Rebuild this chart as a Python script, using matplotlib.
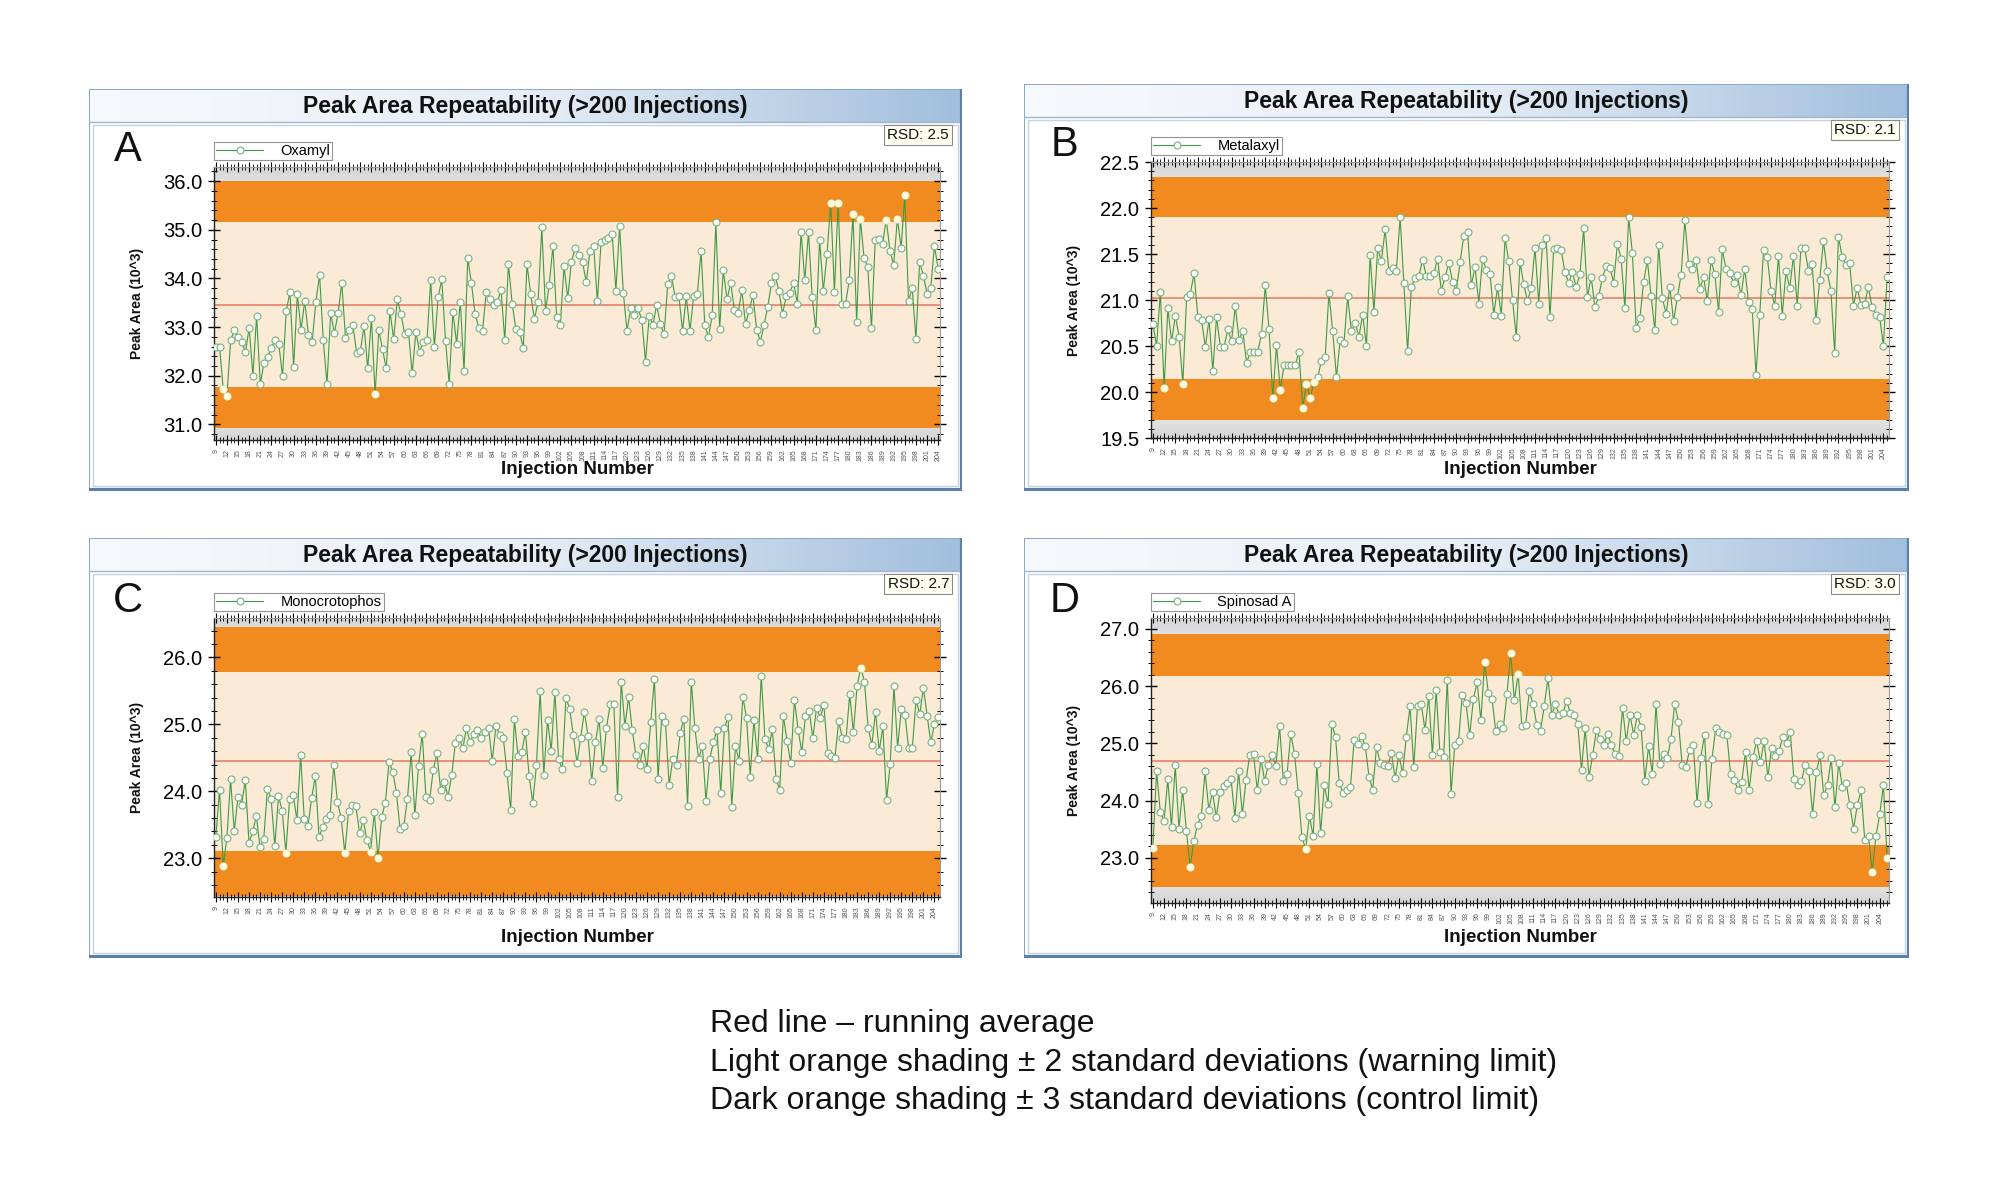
import numpy as np
import matplotlib
matplotlib.use("Agg")
from matplotlib import pyplot as plt
from matplotlib.colors import LinearSegmentedColormap
from matplotlib.patches import Rectangle
from matplotlib.ticker import MultipleLocator

plt.rcParams['font.family'] = ['Liberation Sans', 'DejaVu Sans']

W, H = 2000, 1192

# peak areas (10^3), injection 9 onwards
oxamyl = [32.6, 32.6, 31.72, 31.59, 32.73, 32.94, 32.8, 32.7, 32.49, 32.99, 32.0, 33.23, 31.83, 32.27,
          32.39, 32.58, 32.73, 32.65, 31.99, 33.33, 33.72, 32.18, 33.67, 32.94, 33.54, 32.83, 32.7, 33.52,
          34.08, 32.73, 31.83, 33.29, 32.87, 33.29, 33.91, 32.78, 32.94, 33.04, 32.47, 32.5, 33.02, 32.15,
          33.18, 31.62, 32.94, 32.54, 32.15, 33.33, 32.76, 33.57, 33.26, 32.85, 32.9, 32.05, 32.9, 32.49,
          32.7, 32.73, 33.96, 32.59, 33.61, 33.98, 32.72, 31.83, 33.31, 32.66, 33.52, 32.09, 34.42, 33.9,
          33.27, 32.98, 32.92, 33.72, 33.57, 33.45, 33.52, 33.76, 32.73, 34.29, 33.48, 32.96, 32.89, 32.58,
          34.29, 33.67, 33.16, 33.52, 35.06, 33.33, 33.87, 34.67, 33.2, 33.05, 34.25, 33.6, 34.34, 34.63,
          34.49, 34.33, 33.92, 34.56, 34.67, 33.53, 34.75, 34.78, 34.83, 34.91, 33.75, 35.07, 33.71, 32.92,
          33.39, 33.24, 33.39, 33.14, 32.29, 33.23, 33.05, 33.45, 33.07, 32.85, 33.88, 34.05, 33.61, 33.64,
          32.92, 33.64, 32.92, 33.64, 33.69, 34.56, 33.04, 32.79, 33.24, 35.15, 32.96, 34.17, 33.57, 33.91,
          33.35, 33.28, 33.76, 33.06, 33.36, 33.65, 32.95, 32.7, 33.04, 33.42, 33.9, 34.05, 33.75, 33.27,
          33.64, 33.71, 33.91, 33.48, 34.95, 33.96, 34.95, 33.61, 32.94, 34.8, 33.74, 34.5, 35.56, 33.72,
          35.56, 33.48, 33.48, 33.96, 35.32, 33.11, 35.23, 34.42, 34.23, 32.98, 34.78, 34.82, 34.71, 35.21,
          34.56, 34.28, 35.23, 34.63, 35.71, 33.53, 33.8, 32.75, 34.34, 34.06, 33.69, 33.81, 34.67, 34.2]

metalaxyl = [20.74, 20.5, 21.09, 20.04, 20.91, 20.55, 20.83, 20.6, 20.09, 21.03, 21.07, 21.29, 20.82, 20.78,
             20.49, 20.79, 20.23, 20.82, 20.49, 20.49, 20.68, 20.55, 20.93, 20.57, 20.66, 20.32, 20.43, 20.44,
             20.44, 20.63, 21.16, 20.69, 19.94, 20.51, 20.02, 20.29, 20.29, 20.29, 20.29, 20.44, 19.83, 20.09,
             19.93, 20.11, 20.16, 20.34, 20.38, 21.08, 20.66, 20.16, 20.57, 20.53, 21.04, 20.66, 20.75, 20.6,
             20.84, 20.5, 21.49, 20.87, 21.56, 21.42, 21.77, 21.31, 21.35, 21.32, 21.9, 21.18, 20.45, 21.14,
             21.24, 21.26, 21.44, 21.26, 21.26, 21.29, 21.45, 21.1, 21.25, 21.4, 21.2, 21.1, 21.41, 21.7,
             21.74, 21.16, 21.36, 20.96, 21.45, 21.33, 21.28, 20.84, 21.14, 20.83, 21.67, 21.42, 21.0, 20.6,
             21.41, 21.17, 20.99, 21.13, 21.57, 20.96, 21.6, 21.67, 20.81, 21.55, 21.57, 21.54, 21.3, 21.19,
             21.3, 21.14, 21.28, 21.78, 21.03, 21.25, 20.92, 21.04, 21.24, 21.37, 21.35, 21.19, 21.61, 21.45,
             20.91, 21.9, 21.51, 20.7, 20.8, 21.2, 21.43, 21.04, 20.67, 21.6, 21.02, 20.85, 21.14, 20.77,
             21.03, 21.27, 21.87, 21.39, 21.34, 21.43, 21.12, 21.25, 20.99, 21.43, 21.28, 20.87, 21.55, 21.34,
             21.29, 21.19, 21.27, 21.05, 21.34, 20.98, 20.9, 20.19, 20.84, 21.54, 21.47, 21.1, 20.94, 21.48,
             20.83, 21.31, 21.13, 21.48, 20.94, 21.56, 21.56, 21.32, 21.39, 20.78, 21.22, 21.64, 21.31, 21.1,
             20.42, 21.69, 21.47, 21.38, 21.4, 20.94, 21.13, 20.95, 20.96, 21.14, 20.92, 20.84, 20.82, 20.5, 21.25]

monocrotophos = [23.32, 24.02, 22.89, 23.3, 24.18, 23.4, 23.92, 23.8, 24.17, 23.22, 23.4, 23.63, 23.16, 23.29,
                 24.04, 23.89, 23.18, 23.93, 23.71, 23.08, 23.88, 23.95, 23.57, 24.54, 23.58, 23.48, 23.9, 24.23,
                 23.31, 23.47, 23.58, 23.64, 24.39, 23.84, 23.6, 23.08, 23.7, 23.79, 23.78, 23.37, 23.57, 23.27,
                 23.1, 23.69, 23.0, 23.62, 23.83, 24.44, 24.29, 23.98, 23.43, 23.48, 23.89, 24.58, 23.64, 24.38,
                 24.86, 23.92, 23.87, 24.32, 24.57, 24.02, 24.14, 23.92, 24.24, 24.72, 24.8, 24.64, 24.94, 24.74,
                 24.86, 24.92, 24.79, 24.89, 24.95, 24.45, 24.98, 24.84, 24.8, 24.28, 23.72, 25.08, 24.53, 24.58,
                 24.89, 24.23, 23.83, 24.39, 25.5, 24.25, 25.07, 24.6, 25.48, 24.48, 24.33, 25.4, 25.23, 24.84,
                 24.42, 24.8, 25.19, 24.82, 24.15, 24.73, 25.08, 24.35, 24.95, 25.3, 25.3, 23.91, 25.64, 24.97,
                 25.41, 24.91, 24.54, 24.39, 24.67, 24.33, 25.03, 25.68, 24.18, 25.13, 25.04, 24.09, 24.49, 24.4,
                 24.87, 25.08, 23.78, 25.64, 24.94, 24.48, 24.68, 23.86, 24.48, 24.73, 24.92, 23.97, 24.95, 25.11,
                 23.77, 24.67, 24.46, 25.41, 25.1, 24.22, 25.07, 24.48, 25.73, 24.78, 24.63, 24.93, 24.19, 24.02,
                 25.13, 24.75, 24.42, 25.37, 24.92, 24.59, 25.13, 25.2, 24.79, 25.25, 25.1, 25.29, 24.57, 24.52,
                 24.5, 25.05, 24.79, 24.78, 25.45, 24.88, 25.57, 25.85, 25.64, 24.95, 24.69, 25.19, 24.6, 24.97,
                 23.87, 24.41, 25.58, 24.65, 25.23, 25.14, 24.64, 24.65, 25.37, 25.15, 25.55, 25.13, 24.73, 25.0, 25.11]

spinosad_a = [23.17, 24.51, 23.8, 23.64, 24.37, 23.54, 24.62, 23.51, 24.19, 23.47, 22.84, 23.3, 23.58, 23.73,
              24.51, 23.84, 24.15, 23.71, 24.15, 24.25, 24.31, 24.37, 23.7, 24.51, 23.76, 24.36, 24.8, 24.82,
              24.18, 24.73, 24.34, 24.63, 24.8, 24.6, 25.3, 24.35, 24.46, 25.17, 24.82, 24.14, 23.36, 23.15,
              23.73, 23.38, 24.64, 23.43, 24.27, 23.94, 25.33, 25.11, 24.31, 24.14, 24.19, 24.23, 25.05, 24.99,
              25.13, 24.95, 24.41, 24.19, 24.94, 24.66, 24.63, 24.6, 24.83, 24.39, 24.8, 24.48, 25.11, 25.65,
              24.58, 25.65, 25.68, 25.24, 25.82, 24.8, 25.93, 24.85, 24.76, 26.11, 24.12, 24.97, 25.04, 25.84,
              25.71, 25.14, 25.77, 26.07, 25.4, 26.42, 25.88, 25.78, 25.21, 25.34, 25.26, 25.86, 26.58, 25.75,
              26.22, 25.3, 25.32, 25.91, 25.69, 25.32, 25.22, 25.65, 26.14, 25.5, 25.68, 25.5, 25.53, 25.74,
              25.53, 25.5, 25.33, 24.54, 25.27, 24.41, 24.79, 25.23, 25.07, 24.97, 25.17, 24.97, 24.82, 24.78,
              25.62, 25.04, 25.5, 25.15, 25.49, 25.28, 24.35, 24.95, 24.47, 25.69, 24.64, 24.82, 24.74, 25.07,
              25.69, 25.38, 24.63, 24.58, 24.89, 24.97, 23.96, 24.75, 25.15, 23.94, 24.72, 25.26, 25.2, 25.17,
              25.15, 24.46, 24.36, 24.18, 24.33, 24.85, 24.19, 24.76, 25.04, 24.67, 25.04, 24.41, 24.92, 24.78,
              24.86, 25.11, 25.01, 25.2, 24.37, 24.27, 24.34, 24.62, 24.51, 23.76, 24.5, 24.79, 24.09, 24.27,
              24.74, 23.88, 24.66, 24.23, 24.31, 23.92, 23.51, 23.92, 24.18, 23.31, 23.38, 22.76, 23.38, 23.76,
              24.27, 22.99]

compounds = ["Oxamyl", "Metalaxyl", "Monocrotophos", "Spinosad A"]
series = [oxamyl, metalaxyl, monocrotophos, spinosad_a]
letters = ["A", "B", "C", "D"]
rsd = ["2.5", "2.1", "2.7", "3.0"]
means = [33.46, 21.02, 24.45, 24.70]
sds = [0.845, 0.44, 0.67, 0.735]
ylims = [(30.68, 36.29), (19.5, 22.5), (22.42, 26.59), (22.21, 27.19)]
ymajor = [1.0, 0.5, 1.0, 1.0]
yminor = [0.2, 0.1, 0.2, 0.2]
first_injection = 9

caption = ["Red line \u2013 running average",
           "Light orange shading \u00b1 2 standard deviations (warning limit)",
           "Dark orange shading \u00b1 3 standard deviations (control limit)"]

# pixel layout: frame box, plot box (x0, y0, x1, y1 from top-left)
frames = [(89, 89, 962, 491), (1024, 84, 1909, 491), (89, 538, 962, 958), (1024, 538, 1909, 958)]
plots = [(214, 167, 940, 440), (1151, 162, 1889, 438), (214, 618, 940, 897), (1151, 618, 1889, 903)]

DARK = "#f28b1f"
LIGHT = "#fbead6"
GREEN = "#3f9a45"


def fig_rect(box):
    x0, y0, x1, y1 = box
    return [x0 / W, 1 - y1 / H, (x1 - x0) / W, (y1 - y0) / H]


fig = plt.figure(figsize=(W / 100, H / 100), dpi=100)

title_cmap = LinearSegmentedColormap.from_list("tb", ["#f7f9fc", "#e8eef6", "#a2bfdd"])
bg_cmap = LinearSegmentedColormap.from_list("bg", ["#ffffff", "#d4d4d4"])

for i in range(4):
    fx0, fy0, fx1, fy1 = frames[i]
    fw, fh = fx1 - fx0, fy1 - fy0
    fa = fig.add_axes(fig_rect(frames[i]), zorder=0)
    fa.set_xlim(0, fw)
    fa.set_ylim(fh, 0)
    fa.axis("off")
    fa.add_patch(Rectangle((0, 0), fw, fh, fc="white", ec="#8aa8c8", lw=1.5))
    tb = 33
    grad = np.linspace(0, 1, 200)[None, :]
    fa.imshow(grad, extent=(1, fw - 1, tb, 1), cmap=title_cmap, aspect="auto", zorder=1)
    fa.plot([0, fw], [tb, tb], color="#9fb5cc", lw=1, zorder=2)
    fa.add_patch(Rectangle((4, tb + 3), fw - 8, fh - tb - 8, fc="none", ec="#c6d2de", lw=1, zorder=2))
    fa.plot([0, fw, fw], [fh - 1, fh - 1, 0], color="#5b7fa8", lw=3, zorder=3)
    fa.text(fw / 2, tb / 2 + 1, "Peak Area Repeatability (>200 Injections)", ha="center", va="center",
            fontsize=16.5, fontweight="bold", color="#111111", zorder=4)

    px0, py0, px1, py1 = plots[i]
    ax = fig.add_axes(fig_rect(plots[i]), zorder=1)
    vals = np.array(series[i])
    x = np.arange(first_injection, first_injection + len(vals))
    lo, hi = ylims[i]
    xl = (x[0] - 0.5, x[-1] + 0.5)
    m, s = means[i], sds[i]

    gy = np.abs(np.linspace(-1, 1, 200))[:, None] ** 3
    ax.imshow(gy, extent=(xl[0], xl[1], lo, hi), cmap=bg_cmap, aspect="auto", zorder=0)
    ax.axhspan(m - 3 * s, m - 2 * s, color=DARK, lw=0, zorder=1)
    ax.axhspan(m + 2 * s, m + 3 * s, color=DARK, lw=0, zorder=1)
    ax.axhspan(m - 2 * s, m + 2 * s, color=LIGHT, lw=0, zorder=1)
    ax.axhline(m, color="#e8806b", lw=1.2, zorder=2)

    ax.plot(x, vals, color=GREEN, lw=0.8, marker="o", ms=5, mfc="white", mec="#78b27c", mew=0.8,
            label=compounds[i], zorder=3)
    out = np.abs(vals - m) > 2 * s
    ax.plot(x[out], vals[out], ls="none", marker="o", ms=5, mfc="#fffbe3", mec="#fbf1c4", mew=0.8, zorder=4)

    ax.set_xlim(*xl)
    ax.set_ylim(lo, hi)
    ax.yaxis.set_major_locator(MultipleLocator(ymajor[i]))
    ax.yaxis.set_minor_locator(MultipleLocator(yminor[i]))
    ax.set_yticklabels([f"{t:.1f}" for t in ax.get_yticks()])
    ax.set_xticks(x[::3])
    ax.set_xticklabels([str(v) for v in x[::3]], rotation=90, fontsize=5, color="#555555")
    ax.set_xticks(x, minor=True)
    ax.tick_params(axis="y", which="major", direction="inout", length=9, width=1, labelsize=14.5, pad=4,
                   right=True)
    ax.tick_params(axis="y", which="minor", direction="inout", length=4, width=0.7, right=True)
    ax.tick_params(axis="x", which="major", direction="inout", length=7, width=0.8, pad=3, top=True)
    ax.tick_params(axis="x", which="minor", direction="inout", length=4, width=0.6, top=True)
    for side in ["top", "right"]:
        ax.spines[side].set_color("#9a9a9a")
        ax.spines[side].set_linewidth(0.8)
    for side in ["left", "bottom"]:
        ax.spines[side].set_color("#222222")
        ax.spines[side].set_linewidth(1.0)

    fig.text((px0 - 77) / W, 1 - (py0 + py1) / 2 / H, "Peak Area (10^3)", rotation=90, ha="center",
             va="center", fontsize=10, fontweight="bold", color="#111111")
    fig.text((px0 + px1) / 2 / W, 1 - (fy1 - 21) / H, "Injection Number", ha="center", va="center",
             fontsize=13.5, fontweight="bold", color="#111111")
    fig.text((px0 - 86) / W, 1 - (py0 - 17) / H, letters[i], ha="center", va="center", fontsize=30,
             color="#111111")
    fig.text((fx1 - 13) / W, 1 - (fy0 + tb + 13) / H, "RSD: " + rsd[i], ha="right", va="center",
             fontsize=11, color="#111111",
             bbox=dict(boxstyle="square,pad=0.2", fc="#fffff2", ec="#8a8a8a", lw=0.8))
    leg = ax.legend(loc="lower left", bbox_to_anchor=(px0 / W, 1 - (py0 - 7) / H),
                    bbox_transform=fig.transFigure, fontsize=10.5, frameon=True, fancybox=False,
                    borderpad=0.15, handlelength=3.2, handletextpad=1.2, borderaxespad=0)
    leg.get_frame().set_edgecolor("#7a7a7a")
    leg.get_frame().set_linewidth(0.8)

for k, line in enumerate(caption):
    fig.text(710 / W, 1 - (1024 + 38.5 * k) / H, line, ha="left", va="center", fontsize=23,
             color="#111111")

fig.savefig("out.png", dpi=100)
